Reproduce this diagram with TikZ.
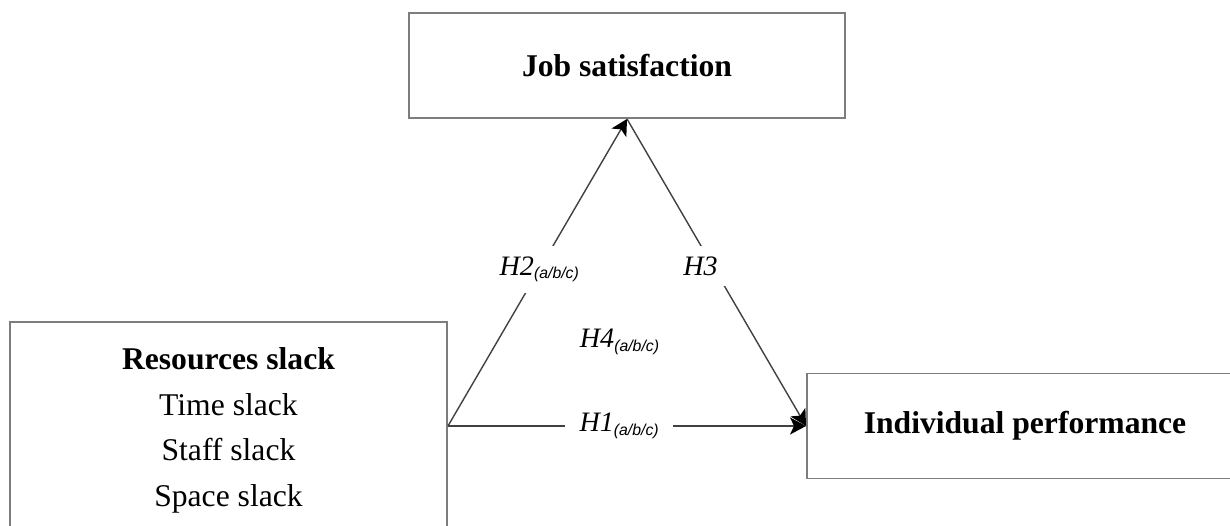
\documentclass[tikz,border=0pt]{standalone}
\usepackage{fontspec}
\setmainfont{Liberation Serif}
\setsansfont{Liberation Sans}
\usetikzlibrary{arrows.meta}
\definecolor{boxgray}{RGB}{125,125,125}
\definecolor{linegray}{RGB}{65,65,65}
\tikzstyle{box} = [draw=boxgray, line width=1.1pt, minimum width=8.72cm, minimum height=2.1cm, font=\fontsize{18}{26}\selectfont, align=center]
\tikzstyle{arrow} = [draw=linegray, line width=0.8pt, -{Stealth[length=3.2mm,width=3.4mm,inset=0.8mm,color=black]}]
\tikzstyle{hyp} = [fill=white, inner xsep=8pt, inner ysep=6pt, font=\fontsize{16}{19}\selectfont\itshape]
\newcommand{\hyplabel}[2]{#1\raisebox{-2pt}{\fontsize{9}{10}\selectfont\sffamily\itshape #2}}

\begin{document}
\begin{tikzpicture}
	\useasboundingbox (0,0) rectangle (24.6,10.5);
	\clip (0,0) rectangle (24.6,10.5);
	% the three constructs
	\node[box] (job) at (12.54,9.19) {\textbf{Job satisfaction}};
	\node[box, minimum width=8.74cm, minimum height=4.33cm] (res) at (4.57,1.895) {\textbf{Resources slack}\\Time slack\\Staff slack\\Space slack};
	\node[box] (perf) at (20.5,1.98) {\textbf{Individual performance}};
	\coordinate (src) at (res.east |- perf.west);
	% hypotheses
	\draw[arrow] (src) -- node[hyp, pos=0.51] (h2) {\hyplabel{H2}{(a/b/c)}} (job.south);
	\draw[arrow] (job.south) -- node[hyp, pos=0.48, xshift=-0.25cm] (h3) {H3} (perf.west);
	\draw[arrow] (src) -- node[hyp, pos=0.478] (h1) {\hyplabel{H1}{(a/b/c)}} (perf.west);
	\node[hyp, fill=none] (h4) at (12.39,3.66) {\hyplabel{H4}{(a/b/c)}};
\end{tikzpicture}
\end{document}
